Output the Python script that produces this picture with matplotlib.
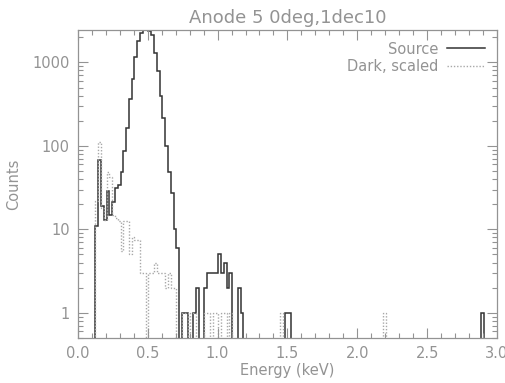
import numpy as np
import matplotlib
matplotlib.use("Agg")
import matplotlib.pyplot as plt
from matplotlib.ticker import FixedLocator, MultipleLocator, NullFormatter

# histogram bins: 0.02 keV wide, edges at 0.005 + 0.02*k
bin_width = 0.02
first_edge = 0.005
n_bins = 149

# Source spectrum (left bin edge in keV, counts)
src_lo = [0.125, 0.145, 0.165, 0.185, 0.205, 0.225, 0.245, 0.265, 0.285, 0.305,
          0.325, 0.345, 0.365, 0.385, 0.405, 0.425, 0.445, 0.465, 0.485, 0.505,
          0.525, 0.545, 0.565, 0.585, 0.605, 0.625, 0.645, 0.665, 0.685, 0.705,
          0.745, 0.765, 0.825, 0.845, 0.905, 0.925, 0.945, 0.965, 0.985, 1.005,
          1.025, 1.045, 1.065, 1.085, 1.145, 1.165, 1.485, 1.505, 2.885]
src_counts = [11, 67, 19, 13, 29, 15, 21, 31, 34, 48,
              86, 164, 360, 640, 1150, 1780, 2250, 2700, 2800, 2400,
              2100, 1300, 790, 395, 218, 99, 49, 27, 10, 6,
              1, 1, 1, 2, 2, 3, 3, 3, 3, 5,
              3, 4, 2, 3, 2, 1, 1, 1, 1]

# Dark spectrum, scaled
dark_lo = [0.125, 0.145, 0.165, 0.185, 0.205, 0.225, 0.245, 0.265, 0.285, 0.305,
           0.325, 0.345, 0.365, 0.385, 0.405, 0.425, 0.445, 0.465, 0.505, 0.525,
           0.545, 0.565, 0.585, 0.605, 0.625, 0.645, 0.665, 0.685, 0.745, 0.765,
           0.805, 0.825, 0.905, 0.925, 0.965, 0.985, 1.025, 1.045, 1.085, 1.445,
           2.185]
dark_counts = [22, 112, 18, 13, 48, 42, 15, 13.5, 12.5, 5.5,
               12.5, 12.5, 5, 8, 7.5, 7.5, 3, 3, 3, 3,
               4, 3, 3, 3, 2, 3, 2, 2, 1, 1,
               1, 1, 1, 1, 1, 1, 1, 1, 1, 1,
               1]

edges = first_edge + bin_width * np.arange(n_bins + 1)


def fill_bins(lo, counts):
    vals = np.zeros(n_bins)
    idx = np.round((np.array(lo) - first_edge) / bin_width).astype(int)
    vals[idx] = counts
    return vals


src = fill_bins(src_lo, src_counts)
dark = fill_bins(dark_lo, dark_counts)

grey = "#939393"
plt.rcParams["font.family"] = "DejaVu Sans"

fig = plt.figure(figsize=(5.06, 3.83), dpi=100)
ax = fig.add_axes([0.154, 0.1175, 0.828, 0.8045])

ax.stairs(src, edges, color="#333333", lw=1.1, label="Source", baseline=None)
ax.stairs(dark, edges, color="#a8a8a8", lw=1.0, ls=(0, (1, 1.3)),
          label="Dark, scaled", baseline=None)

ax.set_yscale("log", nonpositive="clip")
ax.set_xlim(0, 3.0)
ax.set_ylim(0.5, 2450)

ax.xaxis.set_minor_locator(MultipleLocator(0.1))
ax.set_xticks([0, 0.5, 1.0, 1.5, 2.0, 2.5, 3.0])
ax.set_xticklabels(["0.0", "0.5", "1.0", "1.5", "2.0", "2.5", "3.0"])
ax.yaxis.set_major_locator(FixedLocator([1, 10, 100, 1000]))
ax.yaxis.set_minor_locator(FixedLocator(
    [m * d for d in [0.1, 1, 10, 100, 1000] for m in range(2, 10)]))
ax.yaxis.set_minor_formatter(NullFormatter())
ax.set_yticklabels(["1", "10", "100", "1000"])

ax.tick_params(which="both", direction="in", top=True, right=True,
               colors=grey, labelcolor=grey, labelsize=10.5, width=0.8)
ax.tick_params(which="major", length=7, pad=6)
ax.tick_params(which="minor", length=3.5)
for s in ax.spines.values():
    s.set_color(grey)
    s.set_linewidth(0.9)

ax.set_title("Anode 5 0deg,1dec10", color=grey, fontsize=13, pad=5)
ax.set_xlabel("Energy (keV)", color=grey, fontsize=10.5, labelpad=1)
ax.set_ylabel("Counts", color=grey, fontsize=10.5, labelpad=8)

leg = ax.legend(loc="upper right", frameon=False, markerfirst=False,
                fontsize=10.5, handlelength=2.6, handletextpad=0.6,
                borderaxespad=0.4, labelspacing=0.15)
for t in leg.get_texts():
    t.set_color(grey)

fig.savefig("out.png", dpi=100)
